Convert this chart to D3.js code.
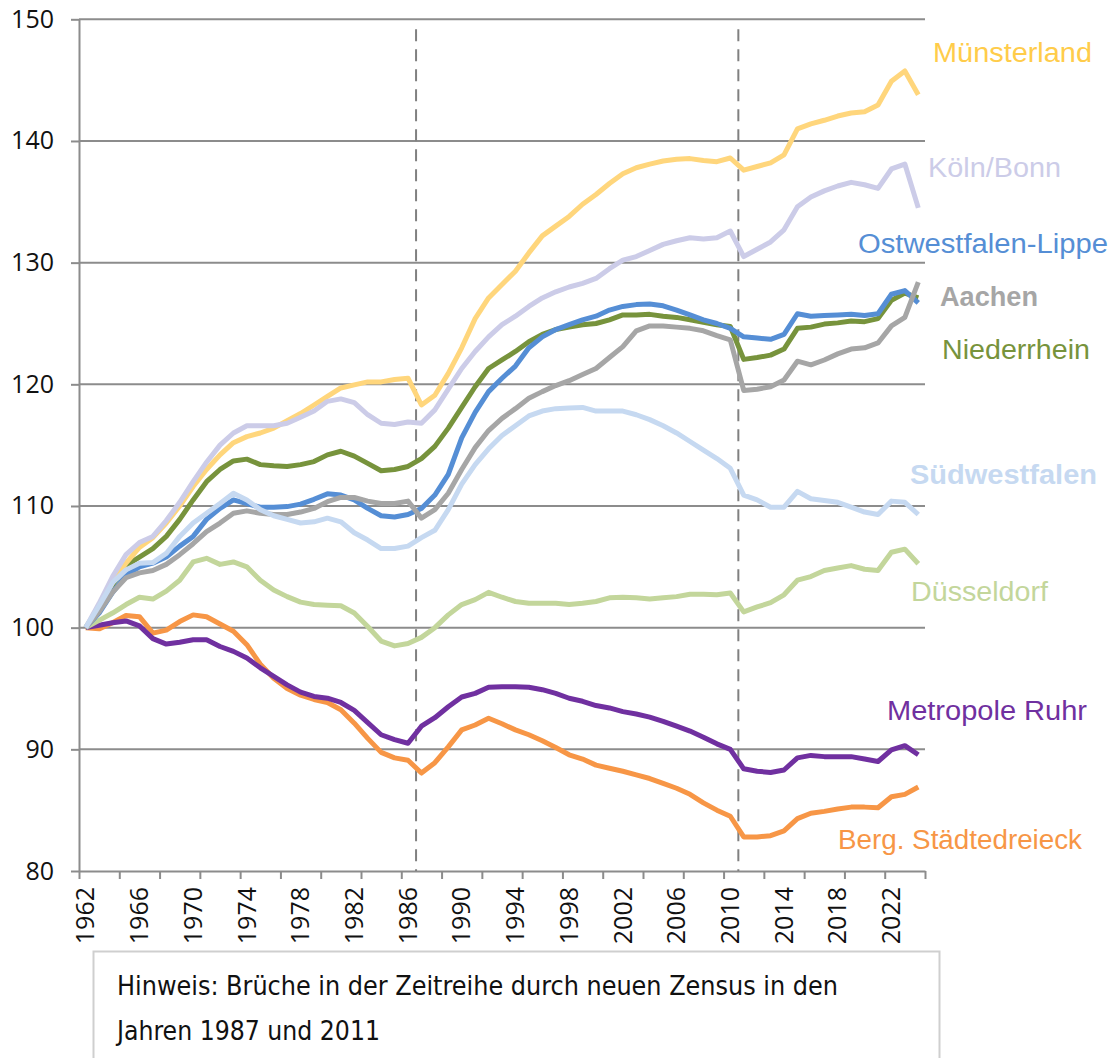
<!DOCTYPE html>
<html>
<head>
<meta charset="utf-8">
<script src="https://cdnjs.cloudflare.com/ajax/libs/d3/7.8.5/d3.min.js"></script>
<style>
  body { margin: 0; background: #fff; }
</style>
</head>
<body>
<svg id="chart" width="1112" height="1058"></svg>
<script>
// years on the category axis
var years = d3.range(1962, 2025);

// index values (1962 = 100), one value per year
var muensterland = [100, 101.7, 103.7, 105.3, 106.6, 107.4, 108.6, 110.0, 111.6, 113.0, 114.2, 115.2,
  115.7, 116.0, 116.4, 117.0, 117.6, 118.3, 119.0, 119.7, 119.95, 120.2, 120.2, 120.4,
  120.5, 118.3, 119.1, 120.9, 123.0, 125.4, 127.1, 128.2, 129.3, 130.8, 132.2, 133.0,
  133.8, 134.8, 135.6, 136.5, 137.3, 137.8, 138.1, 138.35, 138.5, 138.55, 138.4, 138.3,
  138.6, 137.6, 137.9, 138.2, 138.85, 141.0, 141.4, 141.7, 142.05, 142.3, 142.4, 142.95,
  144.9, 145.75, 143.8];
var koelnBonn = [100, 102.0, 104.2, 106.0, 107.0, 107.5, 108.8, 110.3, 112.0, 113.6, 115.0, 116.0,
  116.6, 116.6, 116.6, 116.8, 117.3, 117.8, 118.6, 118.8, 118.5, 117.5, 116.8, 116.7,
  116.9, 116.8, 117.9, 119.6, 121.3, 122.7, 123.9, 124.9, 125.6, 126.4, 127.1, 127.6,
  128.0, 128.3, 128.7, 129.5, 130.2, 130.5, 131.0, 131.5, 131.8, 132.05, 131.95, 132.05,
  132.6, 130.5, 131.1, 131.7, 132.7, 134.6, 135.4, 135.9, 136.3, 136.6, 136.4, 136.1,
  137.7, 138.1, 134.5];
var owl = [100, 101.2, 102.9, 104.3, 105.0, 105.3, 105.8, 106.7, 107.5, 108.9, 109.8, 110.5,
  110.2, 109.9, 109.9, 109.95, 110.15, 110.55, 111.0, 110.9, 110.5, 109.8, 109.2, 109.1,
  109.3, 109.8, 110.9, 112.6, 115.6, 117.7, 119.4, 120.5, 121.5, 123.0, 123.9, 124.5,
  124.9, 125.3, 125.6, 126.1, 126.4, 126.55, 126.6, 126.45, 126.1, 125.7, 125.3, 125.0,
  124.6, 123.9, 123.8, 123.7, 124.1, 125.8, 125.6, 125.65, 125.7, 125.75, 125.65, 125.8,
  127.4, 127.7, 126.7];
var aachen = [100, 101.3, 102.9, 104.1, 104.5, 104.7, 105.2, 106.0, 106.9, 107.9, 108.6, 109.4,
  109.6, 109.4, 109.3, 109.3, 109.5, 109.8, 110.35, 110.7, 110.7, 110.4, 110.2, 110.2,
  110.4, 109.0, 109.7, 111.05, 113.0, 114.8, 116.2, 117.2, 118.0, 118.85, 119.4, 119.9,
  120.3, 120.8, 121.3, 122.2, 123.1, 124.4, 124.8, 124.8, 124.7, 124.6, 124.4, 124.0,
  123.65, 119.5, 119.6, 119.8, 120.35, 121.9, 121.6, 122.0, 122.5, 122.9, 123.0, 123.4,
  124.8, 125.5, 128.4];
var niederrhein = [100, 101.6, 103.5, 105.1, 105.8, 106.5, 107.5, 108.9, 110.5, 112.0, 113.0, 113.7,
  113.85, 113.4, 113.3, 113.25, 113.4, 113.65, 114.2, 114.5, 114.1, 113.5, 112.9, 113.0,
  113.25, 113.9, 114.9, 116.4, 118.1, 119.8, 121.3, 122.0, 122.7, 123.5, 124.1, 124.5,
  124.7, 124.9, 125.0, 125.3, 125.7, 125.7, 125.75, 125.6, 125.5, 125.3, 125.1, 124.9,
  124.75, 122.05, 122.2, 122.4, 122.9, 124.6, 124.7, 124.95, 125.05, 125.2, 125.15, 125.4,
  126.9, 127.5, 127.1];
var suedwestfalen = [100, 101.8, 103.7, 104.75, 105.3, 105.35, 106.1, 107.5, 108.6, 109.4, 110.2, 111.05,
  110.5, 109.7, 109.2, 108.9, 108.6, 108.7, 109.0, 108.7, 107.8, 107.2, 106.5, 106.5,
  106.7, 107.4, 108.0, 109.7, 111.8, 113.4, 114.7, 115.8, 116.6, 117.4, 117.8, 118.0,
  118.05, 118.1, 117.8, 117.8, 117.8, 117.5, 117.1, 116.6, 116.0, 115.3, 114.6, 113.9,
  113.1, 110.9, 110.5, 109.9, 109.9, 111.2, 110.6, 110.45, 110.3, 109.9, 109.5, 109.3,
  110.4, 110.3, 109.3];
var duesseldorf = [100, 100.6, 101.2, 101.9, 102.5, 102.35, 103.0, 103.9, 105.4, 105.7, 105.2, 105.4,
  105.0, 103.9, 103.1, 102.55, 102.1, 101.9, 101.85, 101.8, 101.2, 100.1, 98.9, 98.5,
  98.7, 99.2, 100.0, 101.05, 101.9, 102.3, 102.9, 102.5, 102.15, 102.0, 102.0, 102.0,
  101.9, 102.0, 102.15, 102.45, 102.5, 102.45, 102.35, 102.45, 102.55, 102.75, 102.75, 102.7,
  102.85, 101.3, 101.7, 102.05, 102.7, 103.9, 104.2, 104.7, 104.9, 105.1, 104.8, 104.7,
  106.2, 106.45, 105.25];
var ruhr = [100, 100.2, 100.4, 100.55, 100.15, 99.1, 98.65, 98.8, 99.0, 99.0, 98.45, 98.05,
  97.5, 96.7, 96.0, 95.3, 94.7, 94.35, 94.2, 93.85, 93.2, 92.2, 91.2, 90.8,
  90.5, 91.9, 92.6, 93.5, 94.3, 94.6, 95.1, 95.15, 95.15, 95.1, 94.9, 94.6,
  94.2, 93.95, 93.6, 93.4, 93.1, 92.9, 92.65, 92.3, 91.9, 91.5, 91.0, 90.45,
  90.0, 88.4, 88.2, 88.1, 88.3, 89.3, 89.5, 89.4, 89.4, 89.4, 89.2, 89.0,
  89.95, 90.3, 89.55];
var bergStaedte = [100, 99.9, 100.4, 101.0, 100.9, 99.55, 99.8, 100.5, 101.05, 100.9, 100.3, 99.7,
  98.6, 97.0, 95.85, 95.0, 94.45, 94.1, 93.85, 93.25, 92.15, 90.9, 89.75, 89.3,
  89.1, 88.05, 88.9, 90.2, 91.6, 92.0, 92.55, 92.1, 91.6, 91.2, 90.7, 90.15,
  89.55, 89.2, 88.7, 88.45, 88.2, 87.9, 87.6, 87.2, 86.8, 86.3, 85.6, 85.0,
  84.5, 82.8, 82.8, 82.9, 83.3, 84.3, 84.75, 84.9, 85.1, 85.25, 85.25, 85.2,
  86.1, 86.3, 86.9];

var yTicks = [80, 90, 100, 110, 120, 130, 140, 150];
var xLabelYears = d3.range(1962, 2025, 4);
var breakYears = [1987, 2011]; // neuer Zensus
var note = ["Hinweis: Brüche in der Zeitreihe durch neuen Zensus in den", "Jahren 1987 und 2011"];

// drawing order (later = on top)
var series = [
  { name: "Berg. Städtedreieck", values: bergStaedte, color: "#F79646" },
  { name: "Metropole Ruhr", values: ruhr, color: "#7030A0" },
  { name: "Düsseldorf", values: duesseldorf, color: "#C3D69B" },
  { name: "Niederrhein", values: niederrhein, color: "#77933C" },
  { name: "Münsterland", values: muensterland, color: "#FFD67C" },
  { name: "Köln/Bonn", values: koelnBonn, color: "#CCCCE8" },
  { name: "Ostwestfalen-Lippe", values: owl, color: "#558ED5" },
  { name: "Aachen", values: aachen, color: "#A6A6A6" },
  { name: "Südwestfalen", values: suedwestfalen, color: "#C6D9F1" }
];

// where the series names sit (left x, baseline y, width)
var labelPos = {
  "Münsterland": [933, 62, 159, "#FFCC4A", "normal"],
  "Köln/Bonn": [928, 177, 133, "#CCCCE8", "normal"],
  "Ostwestfalen-Lippe": [858, 253, 250, "#558ED5", "normal"],
  "Aachen": [940, 306, 98, "#A6A6A6", "bold"],
  "Niederrhein": [942, 359, 148, "#77933C", "normal"],
  "Südwestfalen": [910, 484, 187, "#C6D9F1", "bold"],
  "Düsseldorf": [911, 601, 137, "#C3D69B", "normal"],
  "Metropole Ruhr": [887, 720, 200, "#7030A0", "normal"],
  "Berg. Städtedreieck": [838, 849, 244, "#F79646", "normal"]
};

var svg = d3.select("#chart");
// plot box (careful: "top" is taken by window.top)
var plotL = 79, plotR = 925, plotT = 19.3, plotB = 871;

// category axis: each year sits in the middle of its slot
var x = d3.scaleLinear().domain([years[0] - 0.5, years[years.length - 1] + 0.5]).range([plotL, plotR]);
var y = d3.scaleLinear().domain([80, 150]).range([plotB, plotT]);

var gridColor = "#8C8C8C";

// horizontal gridlines + y axis
svg.append("g").selectAll("line")
  .data(yTicks.slice(1))
  .enter().append("line")
  .attr("x1", plotL).attr("x2", plotR)
  .attr("y1", function(d) { return y(d); })
  .attr("y2", function(d) { return y(d); })
  .attr("stroke", gridColor).attr("stroke-width", 2);

var yAxis = d3.axisLeft(y).tickValues(yTicks).tickSize(8).tickPadding(17).tickSizeOuter(0);
var gy = svg.append("g").attr("transform", "translate(" + plotL + ",0)").call(yAxis);
gy.select(".domain").attr("stroke", gridColor).attr("stroke-width", 2);
gy.selectAll(".tick line").attr("stroke", gridColor).attr("stroke-width", 2);
gy.selectAll(".tick text").attr("font-family", "'Open Sans', sans-serif").attr("font-size", 25).attr("fill", "#111");

// x axis: tick marks every 3 slots, labels every 4 years
var slotEdges = d3.range(0, years.length + 1, 3).map(function(i) { return years[0] - 0.5 + i; });
var xAxis = d3.axisBottom(x).tickValues(slotEdges).tickSize(8).tickSizeOuter(0).tickFormat("");
var gx = svg.append("g").attr("transform", "translate(0," + plotB + ")").call(xAxis);
gx.select(".domain").attr("stroke", gridColor).attr("stroke-width", 2);
gx.selectAll(".tick line").attr("stroke", gridColor).attr("stroke-width", 2);

svg.append("g").selectAll("text")
  .data(xLabelYears)
  .enter().append("text")
  .attr("transform", function(d) { return "translate(" + x(d) + "," + (plotB + 16) + ") rotate(-90)"; })
  .attr("text-anchor", "end")
  .attr("dy", "0.35em")
  .attr("font-family", "'Open Sans', sans-serif")
  .attr("font-size", 25)
  .attr("fill", "#111")
  .text(function(d) { return d; });

// census breaks as dashed lines
svg.append("g").selectAll("line")
  .data(breakYears)
  .enter().append("line")
  .attr("x1", function(d) { return x(d - 0.4); })
  .attr("x2", function(d) { return x(d - 0.4); })
  .attr("y1", plotT + 10).attr("y2", plotB)
  .attr("stroke", "#808080").attr("stroke-width", 2)
  .attr("stroke-dasharray", "12,8");

// the lines
var line = d3.line()
  .x(function(d, i) { return x(years[i]); })
  .y(function(d) { return y(d); });

svg.append("g").selectAll("path")
  .data(series)
  .enter().append("path")
  .attr("d", function(s) { return line(s.values); })
  .attr("fill", "none")
  .attr("stroke", function(s) { return s.color; })
  .attr("stroke-width", 5)
  .attr("stroke-linejoin", "round");

// names at the right
svg.append("g").selectAll("text")
  .data(series)
  .enter().append("text")
  .attr("x", function(s) { return labelPos[s.name][0]; })
  .attr("y", function(s) { return labelPos[s.name][1]; })
  .attr("textLength", function(s) { return labelPos[s.name][2]; })
  .attr("lengthAdjust", "spacingAndGlyphs")
  .attr("fill", function(s) { return labelPos[s.name][3]; })
  .attr("font-weight", function(s) { return labelPos[s.name][4]; })
  .attr("font-family", "'Liberation Sans', Arial, sans-serif")
  .attr("font-size", 27)
  .text(function(s) { return s.name; });

// note box at the bottom
svg.append("rect")
  .attr("x", 93.5).attr("y", 951.5)
  .attr("width", 846).attr("height", 140)
  .attr("fill", "#fff").attr("stroke", "#CFCFCF").attr("stroke-width", 2);

svg.append("g").selectAll("text")
  .data(note)
  .enter().append("text")
  .attr("x", 117)
  .attr("y", function(d, i) { return 995 + i * 45; })
  .attr("textLength", function(d, i) { return i == 0 ? 721 : 263; })
  .attr("lengthAdjust", "spacingAndGlyphs")
  .attr("font-family", "'Liberation Sans Narrow', 'DejaVu Sans Condensed', sans-serif")
  .attr("font-size", 26)
  .attr("fill", "#111")
  .text(function(d) { return d; });
</script>
</body>
</html>
